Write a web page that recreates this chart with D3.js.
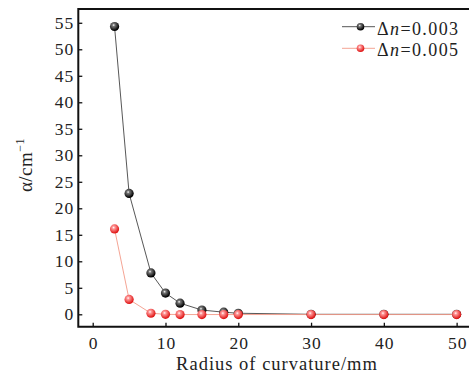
<!DOCTYPE html>
<html>
<head>
  <meta charset="utf-8">
  <title>Absorption vs radius</title>
  <script src="https://d3js.org/d3.v7.min.js"></script>
  <style>
    body { margin: 0; background: #fff; }
    text { font-family: "Liberation Serif", "DejaVu Serif", serif; fill: #222; }
  </style>
</head>
<body>
  <svg id="chart" width="469" height="376"></svg>

  <script>
    // radius of curvature (mm)
    var radius = [3, 5, 8, 10, 12, 15, 18, 20, 30, 40, 50];
    // alpha (cm^-1) for each index contrast
    var alpha003 = [54.3, 22.8, 7.8, 4.0, 2.1, 0.8, 0.4, 0.2, 0, 0, 0];
    var alpha005 = [16.1, 2.8, 0.2, 0, -0.05, -0.05, -0.05, -0.05, -0.05, -0.05, -0.05];
    var xTicks = [0, 10, 20, 30, 40, 50];
    var yTicks = [0, 5, 10, 15, 20, 25, 30, 35, 40, 45, 50, 55];

    var series = [
      { name: "0.003", values: alpha003, line: "#444", light: "#777", dark: "#000" },
      { name: "0.005", values: alpha005, line: "#f39a88", light: "#ff9a9a", dark: "#e01818" }
    ];

    var svg = d3.select("#chart");
    var plotLeft = 78.3, plotBottom = 326.7, plotTop = 9;

    var x = d3.scaleLinear().domain([-1.98, 51.7]).range([plotLeft, 469]);
    var y = d3.scaleLinear().domain([-2.34, 57.6]).range([plotBottom, plotTop]);

    // sphere-like gradients for markers
    var defs = svg.append("defs");
    series.forEach(function(s, i) {
      var g = defs.append("radialGradient").attr("id", "ball" + i)
        .attr("cx", "40%").attr("cy", "35%").attr("r", "60%");
      g.append("stop").attr("offset", "0%").attr("stop-color", "#fff");
      g.append("stop").attr("offset", "25%").attr("stop-color", s.light);
      g.append("stop").attr("offset", "100%").attr("stop-color", s.dark);
    });

    // axes (ticks pointing inward)
    var yAxis = svg.append("g")
      .attr("transform", "translate(" + plotLeft + ",0)")
      .call(d3.axisLeft(y).tickValues(yTicks).tickSizeInner(-4).tickSizeOuter(0).tickPadding(4));
    var xAxis = svg.append("g")
      .attr("transform", "translate(0," + plotBottom + ")")
      .call(d3.axisBottom(x).tickValues(xTicks).tickSizeInner(-4).tickSizeOuter(0).tickPadding(10));

    [yAxis, xAxis].forEach(function(a) {
      a.select(".domain").remove();
      a.selectAll("line").attr("stroke", "#111").attr("stroke-width", 1.3);
      a.selectAll("text")
        .style("font-size", "17.5px")
        .style("letter-spacing", "1px")
        .attr("fill", "#222");
    });
    xAxis.selectAll("text").attr("dx", "0.5px");

    // frame: left, bottom, top
    svg.append("path")
      .attr("d", "M469," + plotTop + "H" + plotLeft + "V" + plotBottom + "H469")
      .attr("fill", "none").attr("stroke", "#111").attr("stroke-width", 2);

    var line = d3.line()
      .x(function(d, i) { return x(radius[i]); })
      .y(function(d) { return y(d); });

    series.forEach(function(s, i) {
      svg.append("path")
        .datum(s.values)
        .attr("fill", "none")
        .attr("stroke", s.line)
        .attr("stroke-width", 0.9)
        .attr("d", line);
    });

    series.forEach(function(s, i) {
      svg.selectAll(".dot" + i)
        .data(s.values)
        .enter().append("circle")
          .attr("class", "dot" + i)
          .attr("cx", function(d, j) { return x(radius[j]); })
          .attr("cy", function(d) { return y(d); })
          .attr("r", 4.6)
          .attr("fill", "url(#ball" + i + ")");
    });

    // legend
    var legend = svg.append("g");
    series.forEach(function(s, i) {
      var ly = 26.7 + i * 21.6;
      legend.append("line")
        .attr("x1", 342).attr("x2", 375).attr("y1", ly).attr("y2", ly)
        .attr("stroke", s.line).attr("stroke-width", 0.9);
      legend.append("circle")
        .attr("cx", 360.5).attr("cy", ly).attr("r", 3.8)
        .attr("fill", "url(#ball" + i + ")");
      var t = legend.append("text")
        .attr("x", 377).attr("y", ly + 8)
        .style("font-size", "18px")
        .style("letter-spacing", "1.4px");
      t.append("tspan").text("\u0394");
      t.append("tspan").style("font-style", "italic").text("n");
      t.append("tspan").text("=" + s.name);
    });

    // axis titles
    svg.append("text")
      .attr("x", 277).attr("y", 369.5)
      .attr("text-anchor", "middle")
      .style("font-size", "18.5px")
      .style("letter-spacing", "1px")
      .text("Radius of curvature/mm");

    var yt = svg.append("text")
      .attr("transform", "translate(32,165) rotate(-90)")
      .attr("text-anchor", "middle")
      .style("font-size", "19px")
      .style("letter-spacing", "0.5px");
    yt.append("tspan").text("\u03b1/cm");
    yt.append("tspan").attr("dy", -8).style("font-size", "12px").text("\u22121");
  </script>
</body>
</html>
